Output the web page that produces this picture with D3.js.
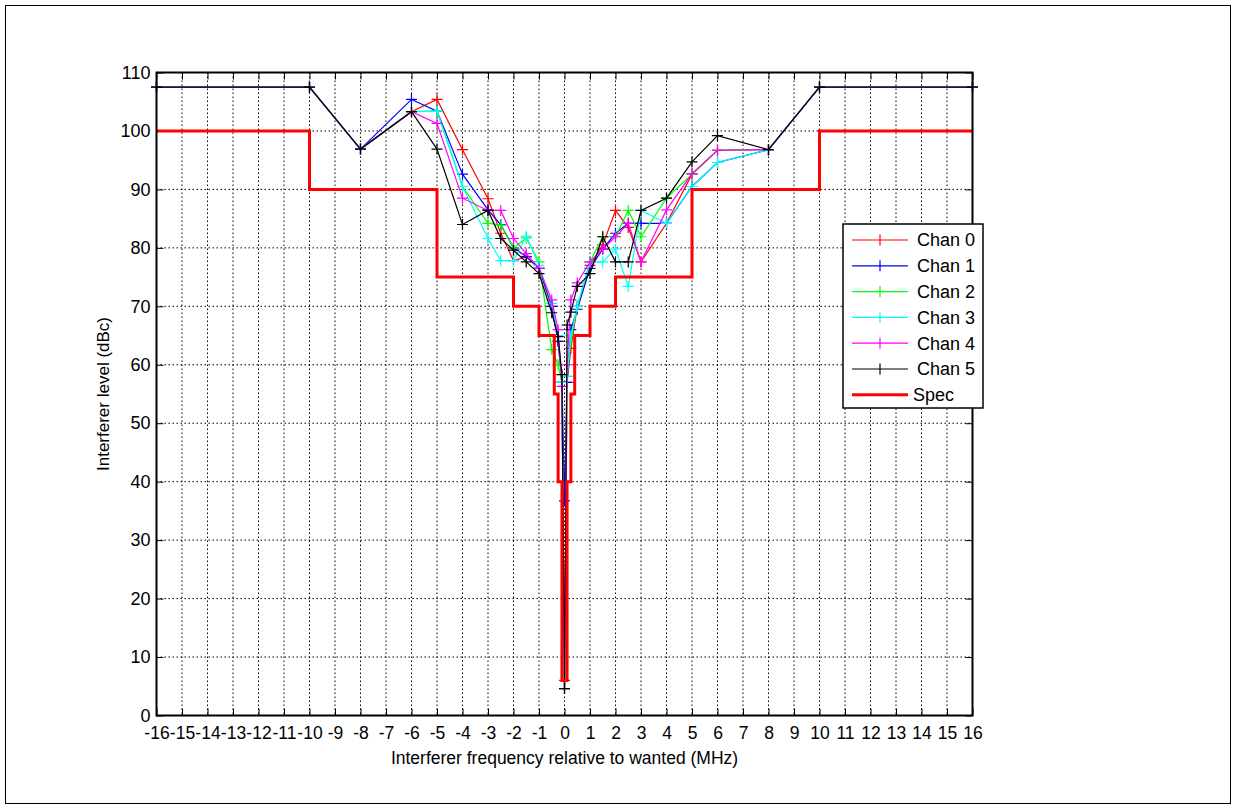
<!DOCTYPE html>
<html><head><meta charset="utf-8">
<script src="https://cdn.jsdelivr.net/npm/d3@7"></script>
<style>
html,body{margin:0;padding:0;background:#fff;}
svg{display:block;font-family:"Liberation Sans",Arial,sans-serif;}
</style></head>
<body>
<svg id="chart" width="1236" height="808"></svg>
<script>
// ---- data ----
const freq = [-16,-10,-8,-6,-5,-4,-3,-2.5,-2,-1.5,-1,-0.5,-0.25,-0.1,0,0.1,0.25,0.5,1,1.5,2,2.5,3,4,5,6,8,10,16];
const chan0 = [107.5,107.5,96.9,103.3,105.4,96.8,88.4,82.5,77.8,78.5,76.5,70.0,64.0,57.0,6.0,57.0,62.8,70.0,77.0,80.5,86.4,83.5,77.6,84.2,92.6,96.7,96.8,107.5,107.5];
const chan1 = [107.5,107.5,96.9,105.4,103.4,92.6,86.5,84.0,80.0,78.5,76.5,70.0,64.0,57.0,36.7,57.0,66.0,69.5,76.5,79.8,82.5,84.2,84.2,84.2,90.5,94.6,96.8,107.5,107.5];
const chan2 = [107.5,107.5,96.9,103.3,103.4,90.5,84.2,83.9,80.0,81.7,77.6,62.6,60.0,57.0,4.6,58.0,64.0,70.0,77.6,81.9,81.9,86.4,81.9,88.5,92.6,96.7,96.8,107.5,107.5];
const chan3 = [107.5,107.5,96.9,103.3,103.4,90.5,81.6,77.8,77.8,82.0,77.0,70.5,65.0,57.0,4.6,58.0,65.0,70.0,77.6,77.6,79.8,73.4,86.4,84.2,90.5,94.6,96.8,107.5,107.5];
const chan4 = [107.5,107.5,96.9,103.3,101.3,88.5,86.4,86.4,81.6,79.0,76.5,71.1,66.0,56.3,4.6,60.0,71.1,74.0,77.6,79.8,81.9,84.2,77.6,86.5,92.7,96.7,96.8,107.5,107.5];
const chan5 = [107.5,107.5,96.9,103.3,96.9,84.0,86.4,81.6,79.6,77.6,75.6,68.9,64.8,58.3,4.6,66.8,69.0,73.4,75.6,81.9,77.6,77.6,86.4,88.5,94.7,99.2,96.8,107.5,107.5];
const seriesNames = ["Chan 0","Chan 1","Chan 2","Chan 3","Chan 4","Chan 5"];
const seriesColors = ["#ff0000","#0000ff","#00ff00","#00ffff","#ff00ff","#000000"];
// spec mask (step breakpoints and levels)
const specFreq  = [-16,-10,-10,-5,-5,-2,-2,-1,-1,-0.4,-0.4,-0.25,-0.25,-0.1,-0.1,0.1,0.1,0.25,0.25,0.4,0.4,1,1,2,2,5,5,10,10,16];
const specLevel = [100,100,90,90,75,75,70,70,65,65,55,55,40,40,6,6,40,40,55,55,65,65,70,70,75,75,90,90,100,100];
const xTicks = d3.range(-16,17,1);
const yTicks = d3.range(0,111,10);

// ---- chart ----
const svg = d3.select("#chart");
const W = 1236, H = 808;
const L = 156.5, R = 972.5, T = 72.5, B = 715.5;
const x = d3.scaleLinear().domain([-16,16]).range([L,R]);
const y = d3.scaleLinear().domain([0,110]).range([B,T]);
const FS = 17.5;

// outer figure frame
svg.append("rect").attr("x",5.5).attr("y",5.5).attr("width",W-11).attr("height",H-10)
  .attr("fill","#fff").attr("stroke","#000").attr("stroke-width",1);

// plot background
svg.append("rect").attr("x",L).attr("y",T).attr("width",R-L).attr("height",B-T).attr("fill","#fff");

// grid
const grid = svg.append("g");
grid.selectAll("line.gx").data(xTicks.slice(1,-1)).join("line")
  .attr("x1",d=>x(d)).attr("x2",d=>x(d)).attr("y1",T).attr("y2",B)
  .attr("stroke","#000").attr("stroke-width",1).attr("stroke-dasharray","1.5,2.5");
grid.selectAll("line.gy").data(yTicks.slice(1,-1)).join("line")
  .attr("y1",d=>y(d)).attr("y2",d=>y(d)).attr("x1",L).attr("x2",R)
  .attr("stroke","#000").attr("stroke-width",1).attr("stroke-dasharray","1.5,2.5");

// axes with inward ticks
const fmt = d => String(d);
const ax = svg.append("g").attr("transform",`translate(0,${B})`)
  .call(d3.axisBottom(x).tickValues(xTicks).tickSize(-7).tickPadding(11).tickFormat(fmt));
const axT = svg.append("g").attr("transform",`translate(0,${T})`)
  .call(d3.axisTop(x).tickValues(xTicks).tickSize(-7).tickFormat(""));
const ay = svg.append("g").attr("transform",`translate(${L},0)`)
  .call(d3.axisLeft(y).tickValues(yTicks).tickSize(-7).tickPadding(6).tickFormat(fmt));
const ayR = svg.append("g").attr("transform",`translate(${R},0)`)
  .call(d3.axisRight(y).tickValues(yTicks).tickSize(-7).tickFormat(""));
[ax,axT,ay,ayR].forEach(g=>{
  g.select(".domain").remove();
  g.selectAll(".tick line").attr("stroke","#000").attr("stroke-width",1);
  g.selectAll(".tick text").attr("fill","#000").style("font-size",FS+"px").style("font-family","'Liberation Sans',Arial,sans-serif");
});
ay.selectAll(".tick text").style("font-size","18px");
ax.selectAll(".tick text").attr("dy","0.72em");

// series
const line = d3.line().x(d=>x(d[0])).y(d=>y(d[1]));
const allSeries = [chan0,chan1,chan2,chan3,chan4,chan5];
const ms = 5.5;
allSeries.forEach((vals,i)=>{
  const pts = freq.map((f,j)=>[f,vals[j]]);
  const g = svg.append("g");
  g.append("path").datum(pts).attr("d",line).attr("fill","none")
    .attr("stroke",seriesColors[i]).attr("stroke-width",1.2);
  g.selectAll("path.m").data(pts).join("path")
    .attr("d",d=>`M${x(d[0])-ms},${y(d[1])}H${x(d[0])+ms}M${x(d[0])},${y(d[1])-ms}V${y(d[1])+ms}`)
    .attr("stroke",seriesColors[i]).attr("stroke-width",1.2);
});

// spec
const specPts = specFreq.map((f,j)=>[f,specLevel[j]]);
svg.append("path").datum(specPts).attr("d",line).attr("fill","none")
  .attr("stroke","#ff0000").attr("stroke-width",3).attr("stroke-linejoin","miter");

// axis box
svg.append("rect").attr("x",L).attr("y",T).attr("width",R-L).attr("height",B-T)
  .attr("fill","none").attr("stroke","#000").attr("stroke-width",2);

// axis titles
svg.append("text").attr("x",(L+R)/2).attr("y",764).attr("text-anchor","middle")
  .style("font-size","17.5px").text("Interferer frequency relative to wanted (MHz)");
svg.append("text").attr("transform",`translate(109,${(T+B)/2}) rotate(-90)`).attr("text-anchor","middle")
  .style("font-size","17px").text("Interferer level (dBc)");

// legend
const lg = svg.append("g");
const LX = 843, LY = 224, LW = 140, LH = 184;
lg.append("rect").attr("x",LX).attr("y",LY).attr("width",LW).attr("height",LH)
  .attr("fill","#fff").attr("stroke","#000").attr("stroke-width",1.5);
const names = seriesNames.concat(["Spec"]);
const colors = seriesColors.concat(["#ff0000"]);
names.forEach((n,i)=>{
  const cy = LY + 16 + i*25.8;
  lg.append("line").attr("x1",LX+9).attr("x2",LX+65).attr("y1",cy).attr("y2",cy)
    .attr("stroke",colors[i]).attr("stroke-width",i<6?1.2:3);
  if(i<6){
    lg.append("line").attr("x1",LX+37).attr("x2",LX+37).attr("y1",cy-ms).attr("y2",cy+ms)
      .attr("stroke",colors[i]).attr("stroke-width",1.2);
  }
  lg.append("text").attr("x",i<6?LX+74:LX+70).attr("y",cy).attr("dy","0.36em")
    .style("font-size","18px").text(n);
});
</script>
</body></html>
